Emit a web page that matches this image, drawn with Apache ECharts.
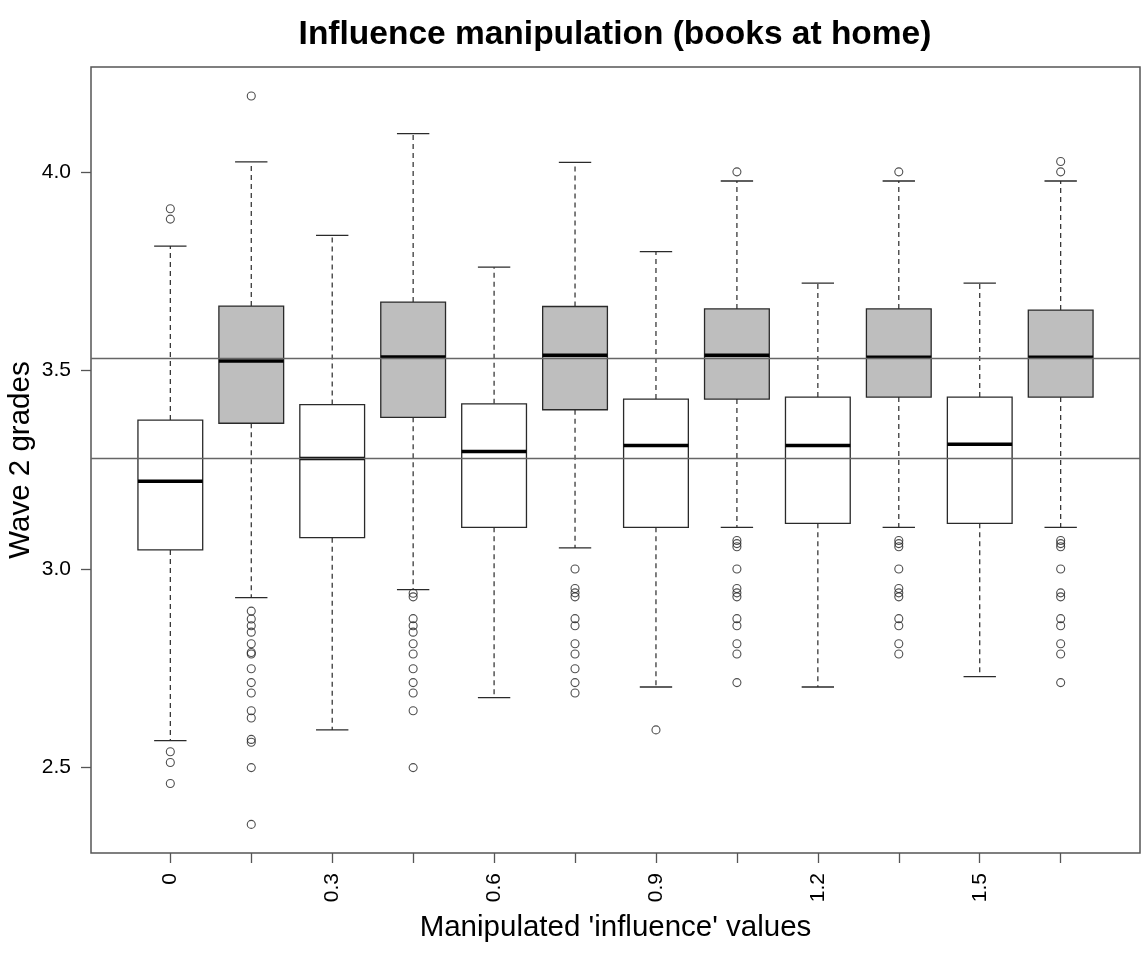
<!DOCTYPE html>
<html>
<head>
<meta charset="utf-8">
<script src="https://cdn.jsdelivr.net/npm/echarts@6/dist/echarts.min.js"></script>
<style>
html,body{margin:0;padding:0;background:#fff;}
#chart{width:1142px;height:955px;}
</style>
</head>
<body>
<div id="chart"></div>
<script>
// ---- data ----
const positions = [1,2,3,4,5,6,7,8,9,10,11,12];
const tickLabels = ['0','','0.3','','0.6','','0.9','','1.2','','1.5',''];
const lowWhisker  = [2.568, 2.928, 2.595, 2.948, 2.676, 3.053, 2.703, 3.105, 2.703, 3.105, 2.729, 3.105];
const q1          = [3.048, 3.367, 3.079, 3.382, 3.105, 3.401, 3.105, 3.428, 3.115, 3.433, 3.115, 3.433];
const median      = [3.221, 3.524, 3.278, 3.534, 3.296, 3.538, 3.311, 3.538, 3.311, 3.533, 3.314, 3.533];
const q3          = [3.375, 3.662, 3.414, 3.672, 3.416, 3.661, 3.428, 3.655, 3.433, 3.655, 3.433, 3.652];
const highWhisker = [3.813, 4.025, 3.840, 4.096, 3.760, 4.024, 3.799, 3.977, 3.720, 3.977, 3.720, 3.977];
const outliers = [
  [3.907, 3.881, 2.540, 2.513, 2.460],
  [4.191, 2.894, 2.874, 2.857, 2.841, 2.812, 2.790, 2.786, 2.749, 2.714, 2.688, 2.643, 2.625, 2.571, 2.564, 2.500, 2.357],
  [],
  [2.939, 2.930, 2.875, 2.857, 2.841, 2.812, 2.786, 2.749, 2.714, 2.688, 2.643, 2.500],
  [],
  [3.000, 2.951, 2.940, 2.930, 2.875, 2.857, 2.812, 2.786, 2.749, 2.714, 2.688],
  [2.595],
  [4.000, 3.072, 3.064, 3.056, 3.000, 2.951, 2.940, 2.930, 2.875, 2.857, 2.812, 2.786, 2.714],
  [],
  [4.000, 3.072, 3.064, 3.056, 3.000, 2.951, 2.940, 2.930, 2.875, 2.857, 2.812, 2.786],
  [],
  [4.026, 4.000, 3.072, 3.064, 3.056, 3.000, 2.940, 2.930, 2.875, 2.857, 2.812, 2.786, 2.714]
];
const refLines = [3.532, 3.278];
const yTicks = [2.5, 3.0, 3.5, 4.0];

// ---- build options ----
const boxData = positions.map((p, i) => [p, lowWhisker[i], q1[i], median[i], q3[i], highWhisker[i]]);
const outlierData = [];
positions.forEach((p, i) => outliers[i].forEach(v => outlierData.push([p, v])));

const FONT = 'Liberation Sans, Arial, Helvetica, sans-serif';
const chart = echarts.init(document.getElementById('chart'), null, {renderer: 'canvas'});

function renderBox(params, api) {
  const x = api.value(0);
  const lo = api.coord([x, api.value(1)]);
  const b1 = api.coord([x, api.value(2)]);
  const md = api.coord([x, api.value(3)]);
  const b3 = api.coord([x, api.value(4)]);
  const hi = api.coord([x, api.value(5)]);
  const bw = api.size([0.8, 0])[0];
  const sw = api.size([0.4, 0])[0];
  const cx = lo[0];
  const fill = (params.dataIndex % 2 === 1) ? '#bebebe' : '#ffffff';
  const lineCol = '#2a2a2a';
  const dash = {stroke: lineCol, lineWidth: 1.2, lineDash: [5, 4]};
  const solid = {stroke: lineCol, lineWidth: 1.3};
  return {
    type: 'group',
    children: [
      {type: 'line', shape: {x1: cx, y1: b3[1], x2: cx, y2: hi[1]}, style: dash},
      {type: 'line', shape: {x1: cx, y1: b1[1], x2: cx, y2: lo[1]}, style: dash},
      {type: 'line', shape: {x1: cx - sw/2, y1: hi[1], x2: cx + sw/2, y2: hi[1]}, style: solid},
      {type: 'line', shape: {x1: cx - sw/2, y1: lo[1], x2: cx + sw/2, y2: lo[1]}, style: solid},
      {type: 'rect', shape: {x: cx - bw/2, y: b3[1], width: bw, height: b1[1] - b3[1]},
        style: {fill: fill, stroke: lineCol, lineWidth: 1.3}},
      {type: 'line', shape: {x1: cx - bw/2, y1: md[1], x2: cx + bw/2, y2: md[1]},
        style: {stroke: '#000', lineWidth: 3.5}}
    ]
  };
}

const option = {
  backgroundColor: '#ffffff',
  animation: false,
  graphic: [{
    type: 'text', x: 615, y: 35,
    style: {text: 'Influence manipulation (books at home)', font: 'bold 33.5px ' + FONT,
      fill: '#000', textAlign: 'center', textVerticalAlign: 'middle'}
  }],
  grid: {left: 91, right: 2, top: 67, bottom: 102, show: true, containLabel: false,
    outerBoundsMode: 'none',
    borderColor: '#555', borderWidth: 1.5, backgroundColor: 'transparent'},
  xAxis: {
    type: 'value', min: 0.02, max: 12.98,
    name: "Manipulated 'influence' values", nameLocation: 'middle', nameGap: 60,
    nameMoveOverlap: false,
    nameTextStyle: {fontFamily: FONT, fontSize: 29.5, color: '#000'},
    axisLine: {show: false},
    splitLine: {show: false},
    axisTick: {show: true, length: 10, customValues: positions, lineStyle: {color: '#555', width: 1.3}},
    axisLabel: {
      show: true, rotate: 90, margin: 20, fontFamily: FONT, fontSize: 21, color: '#000',
      customValues: positions.filter((p, i) => tickLabels[i] !== ''),
      formatter: v => tickLabels[positions.indexOf(Math.round(v))] || ''
    }
  },
  yAxis: {
    type: 'value', min: 2.285, max: 4.264,
    name: 'Wave 2 grades', nameLocation: 'middle', nameGap: 55,
    nameMoveOverlap: false,
    nameTextStyle: {fontFamily: FONT, fontSize: 29.5, color: '#000'},
    axisLine: {show: false},
    splitLine: {show: false},
    axisTick: {show: true, length: 10, customValues: yTicks, lineStyle: {color: '#555', width: 1.3}},
    axisLabel: {show: true, margin: 20, fontFamily: FONT, fontSize: 21, color: '#000',
      customValues: yTicks, formatter: v => v.toFixed(1)}
  },
  series: [
    {
      type: 'custom', renderItem: renderBox, data: boxData,
      encode: {x: 0, y: [1, 2, 3, 4, 5]}, z: 2, clip: true
    },
    {
      type: 'scatter', data: outlierData, symbol: 'circle', symbolSize: 8,
      itemStyle: {color: 'transparent', borderColor: '#222', borderWidth: 1.1},
      z: 3,
      markLine: {
        silent: true, symbol: ['none', 'none'], label: {show: false},
        lineStyle: {color: '#666', width: 1.4, type: 'solid'},
        data: refLines.map(v => ({yAxis: v})),
        z: 5
      }
    }
  ]
};
chart.setOption(option);
</script>
</body>
</html>
